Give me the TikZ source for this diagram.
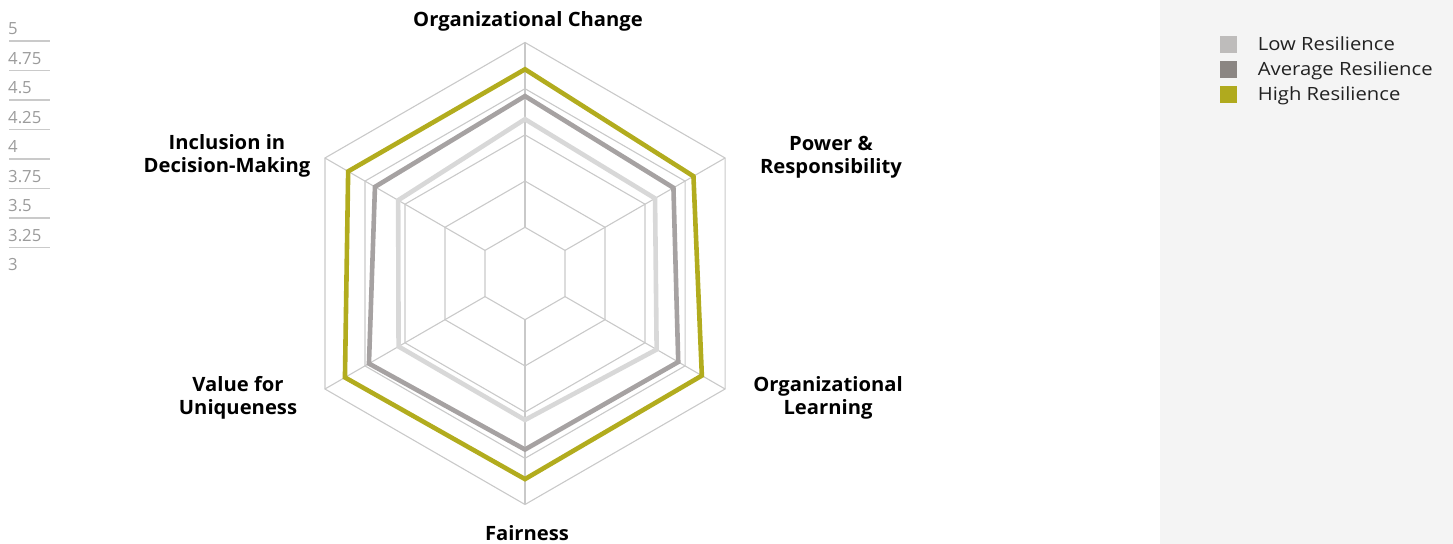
\documentclass[tikz,border=0pt]{standalone}
\usepackage{fontspec}
\setmainfont{Open Sans}
\newfontfamily\labfont[FakeStretch=1.025]{Open Sans}
\newfontfamily\legfont[FakeStretch=1.11]{Open Sans}
\usetikzlibrary{calc}
\definecolor{gridc}{HTML}{C9C9C9}
\definecolor{lowc}{HTML}{D8D8D8}
\definecolor{avgc}{HTML}{A6A2A2}
\definecolor{highc}{HTML}{B2AC1E}
\definecolor{lowsq}{HTML}{BEBCBB}
\definecolor{avgsq}{HTML}{8B8683}
\definecolor{highsq}{HTML}{B0AA1E}
\definecolor{panelc}{HTML}{F4F4F4}
\definecolor{scaletext}{HTML}{9B9B9B}
\definecolor{scaleline}{HTML}{CACACA}
\definecolor{legtc}{HTML}{222222}
\tikzset{
  gridline/.style={draw=gridc, line width=1.1bp},
  series/.style={line width=4.6bp, line join=miter},
  axislabel/.style={font=\labfont\fontsize{19.8}{23.3}\selectfont\bfseries, align=center, inner sep=0pt, anchor=base, text=black},
  legsq/.style={minimum size=16.7bp, inner sep=0pt, draw=none},
  legtext/.style={font=\legfont\fontsize{18.3}{20}\selectfont, inner sep=0pt, anchor=base west, text=legtc},
  scalenum/.style={font=\fontsize{16.8}{18}\selectfont, inner sep=0pt, anchor=base west, text=scaletext},
}
\begin{document}
\begin{tikzpicture}[x=1bp,y=1bp]
\useasboundingbox (0,0) rectangle (1453,544);
\fill[panelc] (1160,0) rectangle (1453,544);
\coordinate (c) at (525,270.5);
\def\u{46.2}
% grid rings
\foreach \k in {1,...,5}{
  \draw[gridline, shift={(c)}] (90:\k*\u) -- (30:\k*\u) -- (-30:\k*\u) -- (-90:\k*\u) -- (-150:\k*\u) -- (150:\k*\u) -- cycle;
}
% spokes
\foreach \a in {90,30,-30,-90,-150,150}{
  \draw[gridline, shift={(c)}] (\a:\u) -- (\a:5*\u);
}
% series
\draw[series, lowc, shift={(c)}] (90:3.34*\u) -- (30:3.25*\u) -- (-30:3.29*\u) -- (-90:3.17*\u) -- (-150:3.16*\u) -- (150:3.17*\u) -- cycle;
\draw[series, avgc, shift={(c)}] (90:3.84*\u) -- (30:3.71*\u) -- (-30:3.83*\u) -- (-90:3.81*\u) -- (-150:3.90*\u) -- (150:3.75*\u) -- cycle;
\draw[series, highc, shift={(c)}] (90:4.42*\u) -- (30:4.21*\u) -- (-30:4.42*\u) -- (-90:4.45*\u) -- (-150:4.50*\u) -- (150:4.42*\u) -- cycle;
% axis labels
\node[axislabel] (oc) at (528,517.3) {Organizational Change};
\node[axislabel] (pr) at (831,370) {Power \&\\Responsibility};
\node[axislabel] (ol) at (828,129) {Organizational\\Learning};
\node[axislabel] (fa) at (527,3.5) {Fairness};
\node[axislabel] (vu) at (238,129) {Value for\\Uniqueness};
\node[axislabel] (id) at (227,371.3) {Inclusion in\\Decision-Making};
% left scale
\foreach \v [count=\i from 0] in {5,4.75,4.5,4.25,4,3.75,3.5,3.25,3}{
  \node[scalenum] (s\i) at (8,509-\i*29.5) {\v};
}
\foreach \i in {0,...,7}{
  \coordinate (la\i) at (9,503-\i*29.5);
  \coordinate (lb\i) at (50,503-\i*29.5);
  \draw[scaleline, line width=1.2bp] (la\i) -- (lb\i);
}
% legend
\node[legsq, fill=lowsq] (q1) at (1228.3,499.7) {};
\node[legsq, fill=avgsq] (q2) at (1228.3,474.3) {};
\node[legsq, fill=highsq] (q3) at (1228.3,449.5) {};
\node[legtext] (t1) at (1257.7,493.3) {Low Resilience};
\node[legtext] (t2) at (1257.7,468.3) {Average Resilience};
\node[legtext] (t3) at (1257.7,443.3) {High Resilience};
\end{tikzpicture}
\end{document}
